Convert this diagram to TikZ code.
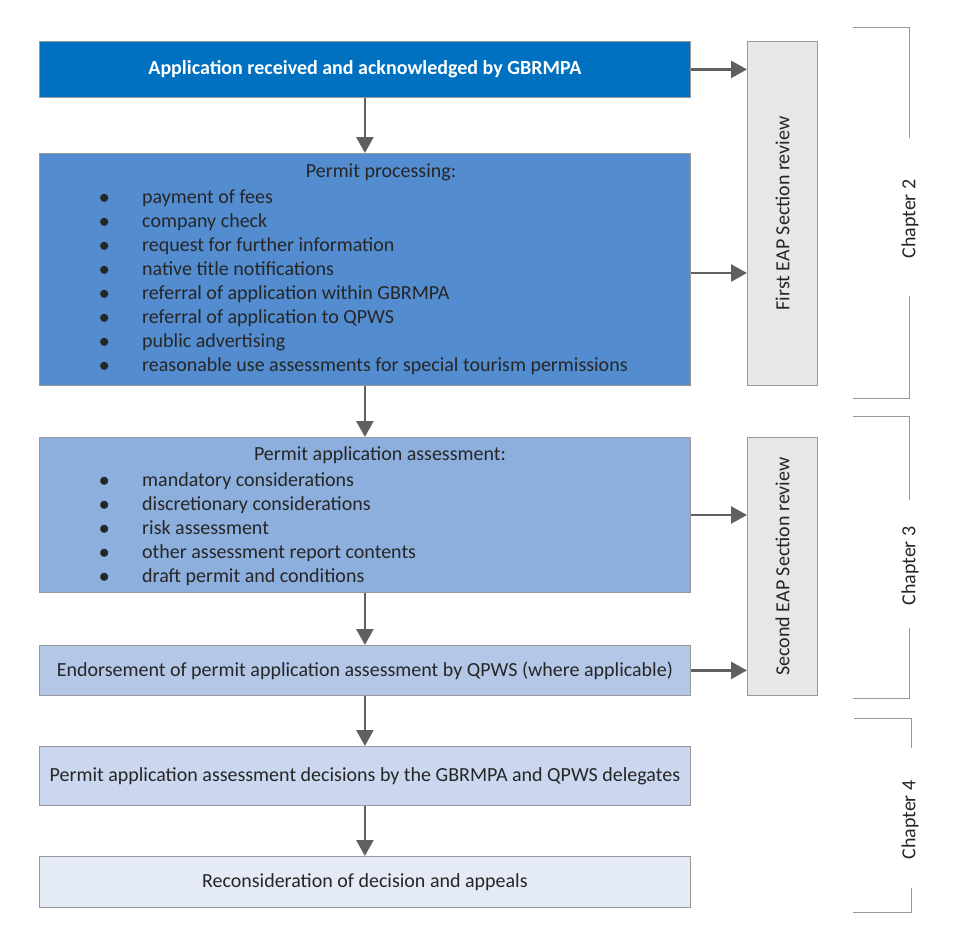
\documentclass[tikz,border=0pt]{standalone}
\usepackage{fontspec}
\setmainfont{Carlito}
\usetikzlibrary{positioning}
\usetikzlibrary{arrows.meta}
\definecolor{stepa}{HTML}{0070C0}
\definecolor{stepb}{HTML}{538DD0}
\definecolor{stepc}{HTML}{8DAFDD}
\definecolor{stepd}{HTML}{B4C7E7}
\definecolor{stepe}{HTML}{CAD7EE}
\definecolor{stepf}{HTML}{E4EAF6}
\definecolor{revfill}{HTML}{E7E7E9}
\definecolor{arrowgray}{HTML}{606060}
\tikzset{
    stepbox/.style = {rectangle, draw=gray!80, line width=0.8pt, minimum width=651pt, inner sep=0pt, anchor=north west},
    revbox/.style = {rectangle, draw=gray!80, line width=0.8pt, fill=revfill, minimum width=70pt, inner sep=0pt, anchor=north west},
    boxtext/.style = {font=\fontsize{20}{24}\selectfont, text=black!85, inner sep=0pt},
    listtext/.style = {boxtext, align=left, anchor=north west},
    sidetext/.style = {boxtext, rotate=90},
    flow/.style = {-{Triangle[length=16pt,width=17pt]}, line width=2.6pt, arrowgray},
    chapline/.style = {gray!80, line width=0.9pt}
}
\newcommand{\itemrow}[1]{\makebox[43pt][l]{$\bullet$}#1\\}

\begin{document}
\begin{tikzpicture}[x=1pt, y=-1pt]
  \useasboundingbox (0,0) rectangle (960,943);
  % main steps
  \node[stepbox, fill=stepa, minimum height=56pt] (recv) at (39,41) {};
  \node[boxtext, text=white, font=\fontsize{20}{24}\selectfont\bfseries] (recvt) at (recv.center) {Application received and acknowledged by GBRMPA};
  \node[stepbox, fill=stepb, minimum height=232pt] (proc) at (39,153) {};
  \node[boxtext] (proct) at (381,172) {Permit processing:};
  \node[listtext] (procl) at (99,190) {%
    \itemrow{payment of fees}
    \itemrow{company check}
    \itemrow{request for further information}
    \itemrow{native title notifications}
    \itemrow{referral of application within GBRMPA}
    \itemrow{referral of application to QPWS}
    \itemrow{public advertising}
    \itemrow{reasonable use assessments for special tourism permissions}};
  \node[stepbox, fill=stepc, minimum height=155pt] (assess) at (39,437) {};
  \node[boxtext] (assesst) at (380,455) {Permit application assessment:};
  \node[listtext] (assessl) at (99,472) {%
    \itemrow{mandatory considerations}
    \itemrow{discretionary considerations}
    \itemrow{risk assessment}
    \itemrow{other assessment report contents}
    \itemrow{draft permit and conditions}};
  \node[stepbox, fill=stepd, minimum height=50pt] (endorse) at (39,645) {};
  \node[boxtext] (endorset) at (endorse.center) {Endorsement of permit application assessment by QPWS (where applicable)};
  \node[stepbox, fill=stepe, minimum height=59pt] (decide) at (39,746) {};
  \node[boxtext] (decidet) at (decide.center) {Permit application assessment decisions by the GBRMPA and QPWS delegates};
  \node[stepbox, fill=stepf, minimum height=51pt] (recon) at (39,856) {};
  \node[boxtext] (recont) at (recon.center) {Reconsideration of decision and appeals};

  % review boxes
  \node[revbox, minimum height=344pt] (first) at (747,41) {};
  \node[sidetext] (firstt) at (first.center) {First EAP Section review};
  \node[revbox, minimum height=258pt] (second) at (747,437) {};
  \node[sidetext] (secondt) at (second.center) {Second EAP Section review};

  % flow arrows
  \draw[flow] (recv) -- (proc);
  \draw[flow] (proc) -- (assess);
  \draw[flow] (assess) -- (endorse);
  \draw[flow] (endorse) -- (decide);
  \draw[flow] (decide) -- (recon);
  \draw[flow] (recv.east) -- (recv.east -| first.west);
  \draw[flow] (proc.east |- 0,273) -- (first.west |- 0,273);
  \draw[flow] (assess.east |- 0,515) -- (second.west |- 0,515);
  \draw[flow] (endorse.east) -- (endorse.east -| second.west);

  % chapter brackets
  \draw[chapline] (853,27) -- (909,27) -- (909,138);
  \draw[chapline] (909,296) -- (909,398) -- (853,398);
  \node[sidetext] (chap2) at (910,219) {Chapter 2};
  \draw[chapline] (853,416) -- (909,416) -- (909,500);
  \draw[chapline] (909,628) -- (909,698) -- (853,698);
  \node[sidetext] (chap3) at (910,566) {Chapter 3};
  \draw[chapline] (854,718) -- (911,718) -- (911,748);
  \draw[chapline] (911,888) -- (911,912) -- (853,912);
  \node[sidetext] (chap4) at (910,820) {Chapter 4};
\end{tikzpicture}
\end{document}
